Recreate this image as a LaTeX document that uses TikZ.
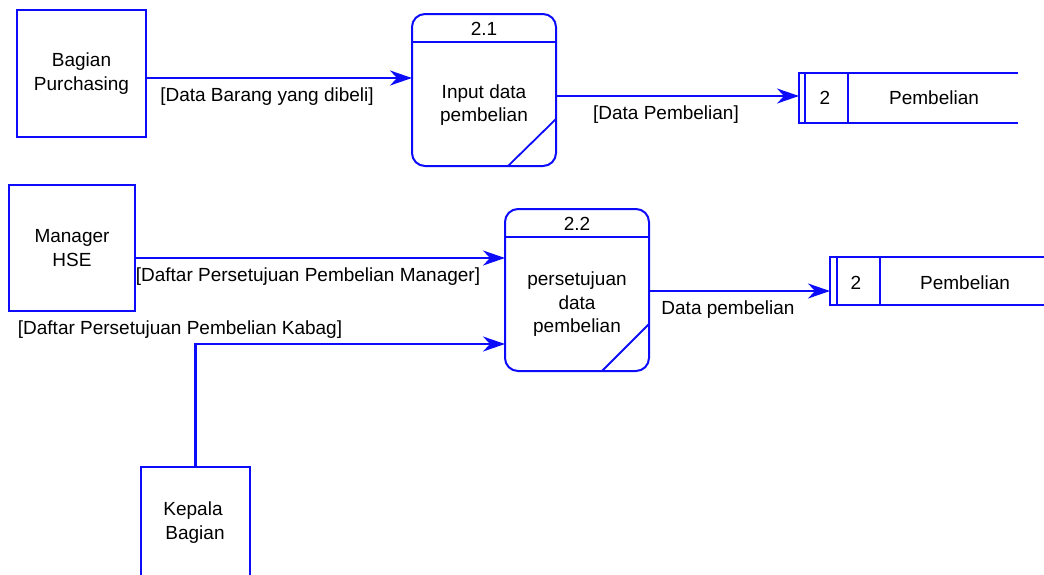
\documentclass[tikz,border=0pt]{standalone}
\usepackage{fontspec}
\setmainfont{Liberation Sans}
\usetikzlibrary{arrows.meta,calc}
\definecolor{dfdblue}{RGB}{12,12,250}
\begin{document}
\begin{tikzpicture}[x=1pt,y=-1pt,
  font=\fontsize{19}{23.5}\selectfont,
  every node/.style={inner sep=0pt, outer sep=0pt},
  entity/.style={draw=dfdblue, line width=2pt, rectangle, align=center},
  procbox/.style={draw=dfdblue, line width=2pt, rounded corners=13pt},
  edgeline/.style={draw=dfdblue, line width=1.8pt},
  storebox/.style={rectangle, draw=none},
  flow/.style={draw=dfdblue, line width=2.2pt, -{Stealth[length=22pt,width=15pt,inset=7pt]}},
  lbl/.style={text=black, align=center},
]
\useasboundingbox (0,0) rectangle (1044,574);
\clip (0,0) rectangle (1044,574);

% external entities
\node[entity, minimum width=129, minimum height=127] (bp) at (81.5,73.5) {Bagian\\Purchasing};
\node[entity, minimum width=126, minimum height=126] (mh) at (72,248) {Manager\\HSE};
\node[entity, minimum width=109, minimum height=140] (kb) at (195.5,537) {};
\node[lbl] (kbt) at (193,522.5) {Kepala\\\hspace*{4pt}Bagian};

% process 2.1
\node[procbox, minimum width=144, minimum height=152] (p1) at (484,90) {};
\draw[edgeline] (p1.west |- 0,42) -- (p1.east |- 0,42);
\draw[edgeline] (p1.south -| 508,0) -- (p1.east |- 0,119);
\node (p1n) at (484,29) {2.1};
\node[lbl] (p1t) at (484,105) {Input data\\pembelian};

% process 2.2
\node[procbox, minimum width=144, minimum height=162] (p2) at (577,290) {};
\draw[edgeline] (p2.west |- 0,237) -- (p2.east |- 0,237);
\draw[edgeline] (p2.south -| 602,0) -- (p2.east |- 0,324);
\node (p2n) at (577,224) {2.2};
\node[lbl] (p2t) at (577,304.5) {persetujuan\\data\\pembelian};

% data stores (open on the right)
\node[storebox, minimum width=219, minimum height=50] (s1) at (908.5,98) {};
\draw[edgeline] (s1.north east) -- (s1.north west) -- (s1.south west) -- (s1.south east);
\draw[edgeline] (s1.north west -| 805,0) -- (s1.south west -| 805,0);
\draw[edgeline] (s1.north west -| 848,0) -- (s1.south west -| 848,0);
\node (s1n) at (825,98) {2};
\node (s1t) at (934,98) {Pembelian};

\node[storebox, minimum width=230, minimum height=48] (s2) at (945,281) {};
\draw[edgeline] (s2.north east) -- (s2.north west) -- (s2.south west) -- (s2.south east);
\draw[edgeline] (s2.north west -| 837,0) -- (s2.south west -| 837,0);
\draw[edgeline] (s2.north west -| 880,0) -- (s2.south west -| 880,0);
\node (s2n) at (856,283) {2};
\node (s2t) at (965,283) {Pembelian};

% data flows
\draw[flow] (bp.east |- 0,78) -- (p1.west |- 0,78);
\draw[flow] (p1.east |- 0,96) -- (s1.west |- 0,96);
\draw[flow] (mh.east |- 0,258) -- (p2.west |- 0,258);
\draw[flow] (kb.north) |- (p2.west |- 0,344);
\draw[flow] (p2.east |- 0,291) -- (s2.west |- 0,291);

% flow labels
\node[lbl] (f1) at (267,97) {[Data Barang yang dibeli]};
\node[lbl] (f2) at (666,115) {[Data Pembelian]};
\node[lbl] (f3) at (308,277) {[Daftar Persetujuan Pembelian Manager]};
\node[lbl] (f4) at (180,330) {[Daftar Persetujuan Pembelian Kabag]};
\node[lbl] (f5) at (728,310) {Data pembelian};
\end{tikzpicture}
\end{document}
